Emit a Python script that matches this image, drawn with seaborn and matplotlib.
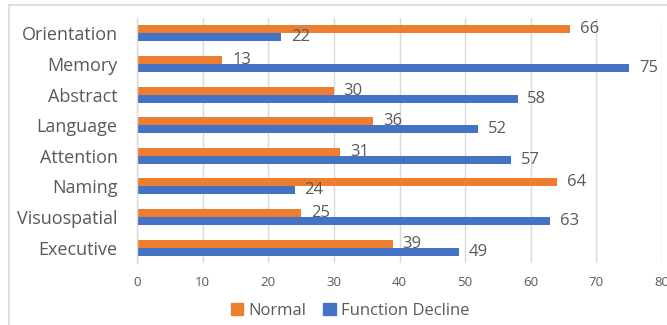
import matplotlib
matplotlib.use("Agg")
import matplotlib.pyplot as plt
from matplotlib.patches import Rectangle
import pandas as pd
import seaborn as sns

categories = ["Orientation", "Memory", "Abstract", "Language",
              "Attention", "Naming", "Visuospatial", "Executive"]
normal = [66, 13, 30, 36, 31, 64, 25, 39]
decline = [22, 75, 58, 52, 57, 24, 63, 49]
series = ["Normal", "Function Decline"]
x_ticks = [0, 10, 20, 30, 40, 50, 60, 70, 80]

df = pd.DataFrame({
    "category": categories * 2,
    "value": normal + decline,
    "series": [series[0]] * len(categories) + [series[1]] * len(categories),
})

sns.set_theme(style="white")
plt.rcParams["font.family"] = ["Open Sans", "DejaVu Sans"]

text_color = "#595959"
grid_color = "#d9d9d9"
palette = {"Normal": "#ED7D31", "Function Decline": "#4472C4"}

fig = plt.figure(figsize=(6.67, 3.25), dpi=100)
ax = fig.add_axes([137 / 667, 1 - 263 / 325, 525 / 667, 245 / 325])

sns.barplot(data=df, x="value", y="category", hue="series", order=categories,
            hue_order=series, palette=palette, orient="h", width=0.52,
            gap=0, saturation=1, ax=ax, legend=False, edgecolor="none")

for container in ax.containers:
    ax.bar_label(container, padding=7, fontsize=12, color=text_color)

ax.set_xlim(0, 80)
ax.set_xticks(x_ticks)
ax.set_xticklabels([str(t) for t in x_ticks], fontsize=9.5, color=text_color)
ax.tick_params(axis="x", length=0, pad=9)
ax.tick_params(axis="y", length=0, pad=14, labelsize=13, labelcolor=text_color)
ax.set_xlabel("")
ax.set_ylabel("")
ax.grid(axis="x", color=grid_color, linewidth=1)
ax.set_axisbelow(True)
for side in ["top", "right", "bottom"]:
    ax.spines[side].set_visible(False)
ax.spines["left"].set_color(grid_color)
ax.spines["left"].set_linewidth(1)

# chart-area frame
fig.patches.append(Rectangle((9 / 667, -0.1), 1.2, 1 - 5 / 325 + 0.1,
                             transform=fig.transFigure, fill=False,
                             edgecolor="#d9d9d9", linewidth=1.2))

handles = [Rectangle((0, 0), 1, 1, color=palette[s]) for s in series]
fig.legend(handles, series, loc="center", bbox_to_anchor=(350 / 667, 1 - 311 / 325),
           ncol=2, frameon=False, fontsize=12, labelcolor=text_color,
           handlelength=0.75, handleheight=0.75, handletextpad=0.3, columnspacing=1.0)

fig.savefig("out.png", dpi=100)
